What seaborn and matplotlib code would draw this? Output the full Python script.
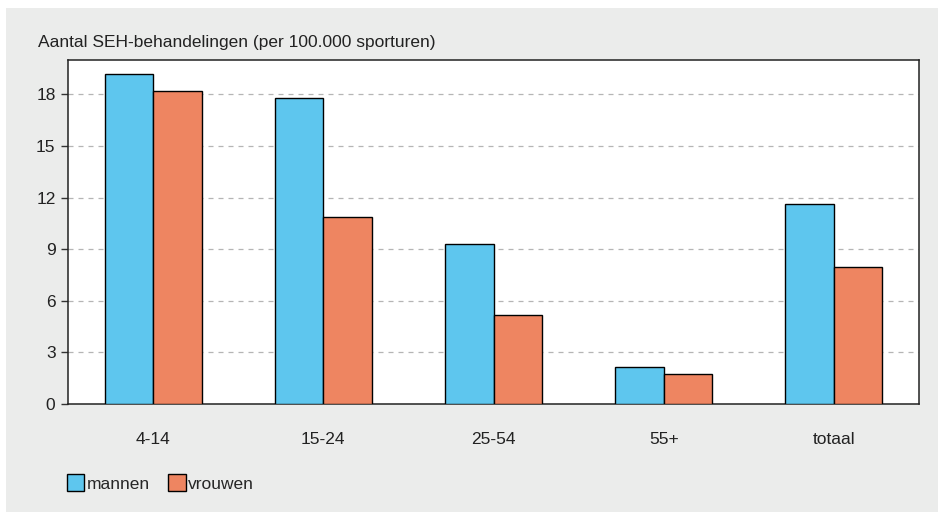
import pandas as pd
import numpy as np
import seaborn as sns
import matplotlib
matplotlib.use("Agg")
from matplotlib import pyplot as plt
from matplotlib.patches import Rectangle, Patch

# data
leeftijd = ['4-14', '15-24', '25-54', '55+', 'totaal']
mannen = [19.2, 17.8, 9.3, 2.15, 11.6]
vrouwen = [18.2, 10.9, 5.2, 1.75, 7.95]
yticks = [0, 3, 6, 9, 12, 15, 18]

blauw = '#5ec6ee'
oranje = '#ee8561'

df = pd.DataFrame({
    'leeftijd': leeftijd * 2,
    'waarde': mannen + vrouwen,
    'geslacht': ['mannen'] * len(mannen) + ['vrouwen'] * len(vrouwen),
})

sns.set_style('white')
plt.rcParams['font.family'] = ['Liberation Sans', 'DejaVu Sans']
fs = 12.5

fig = plt.figure(figsize=(9.38, 5.17), dpi=100)
fig.patch.set_facecolor('white')
# grey panel behind the chart
paneel = Rectangle((6 / 938, 5 / 517), 932 / 938, 504 / 517,
                   transform=fig.transFigure, facecolor='#ebeceb',
                   edgecolor='none', zorder=-5)
fig.add_artist(paneel)

ax = fig.add_axes([68 / 938, (517 - 404) / 517, 851 / 938, 344 / 517])
ax.set_facecolor('white')
sns.barplot(data=df, x='leeftijd', y='waarde', hue='geslacht',
            palette=[blauw, oranje], width=0.57, edgecolor='black',
            linewidth=1.0, saturation=1, ax=ax, legend=False, zorder=3)

ax.set_xlim(-0.5, 4.5)
ax.set_ylim(0, 20)
ax.set_yticks(yticks)
ax.set_yticklabels([str(t) for t in yticks], fontsize=fs, color='#222222')
ax.tick_params(axis='y', left=True, length=5, width=1, color='#333333', pad=4)
ax.tick_params(axis='x', bottom=False, labelsize=fs, pad=17, colors='#222222')
for t in yticks[1:]:
    ax.axhline(t, color='#b5b5b5', linestyle=(0, (4, 4)), linewidth=0.9, zorder=1)
for s in ax.spines.values():
    s.set_visible(True)
    s.set_color('#222222')
    s.set_linewidth(1.1)
ax.set_xlabel('')
ax.set_ylabel('')

fig.text(38 / 938, 1 - 42 / 517, 'Aantal SEH-behandelingen (per 100.000 sporturen)',
         fontsize=fs, color='#222222', va='center', ha='left')

handles = [Patch(facecolor=blauw, edgecolor='black', label='mannen'),
           Patch(facecolor=oranje, edgecolor='black', label='vrouwen')]
fig.legend(handles=handles, loc='center left', ncol=2, frameon=False,
           bbox_to_anchor=(67 / 938, 1 - 483 / 517), fontsize=fs,
           handlelength=1.0, handleheight=1.1, handletextpad=0.15,
           columnspacing=1.05, borderaxespad=0, borderpad=0)

fig.savefig('out.png', dpi=100, facecolor=fig.get_facecolor())
